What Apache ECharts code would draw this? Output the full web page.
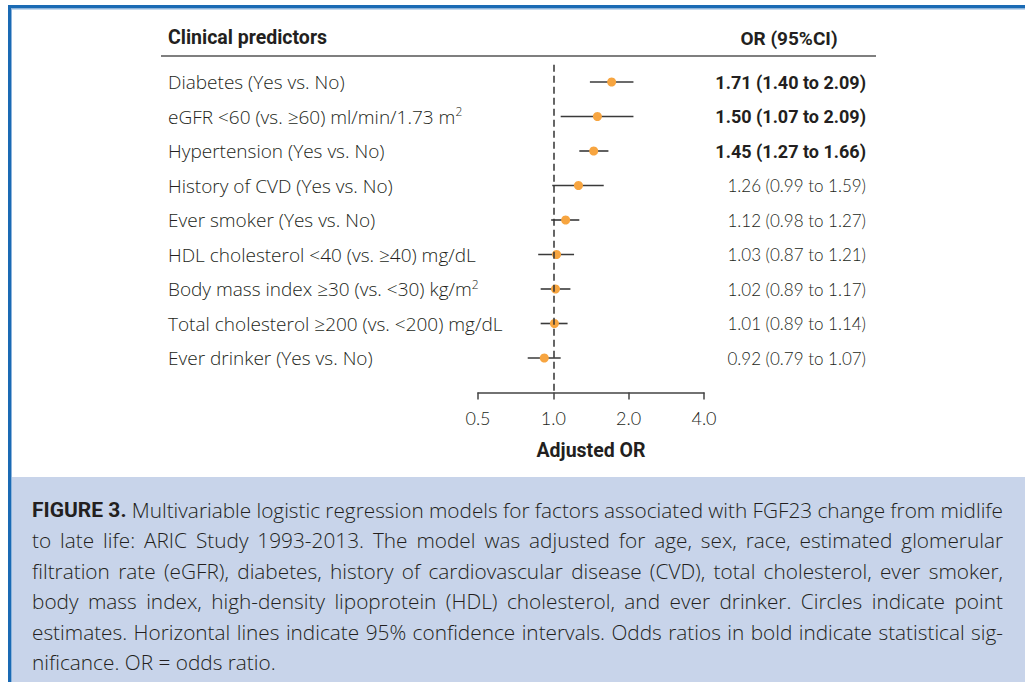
<!DOCTYPE html>
<html>
<head>
<meta charset="utf-8">
<script src="https://cdn.jsdelivr.net/npm/echarts@6/dist/echarts.min.js"></script>
<style>
html,body{margin:0;padding:0;background:#fff;}
#chart{width:1025px;height:682px;}
</style>
</head>
<body>
<div id="chart"></div>
<script>
// ---- data ----
const categories = [
  'Diabetes (Yes vs. No)',
  'eGFR <60 (vs. ≥60) ml/min/1.73 m{sup|2}',
  'Hypertension (Yes vs. No)',
  'History of CVD (Yes vs. No)',
  'Ever smoker (Yes vs. No)',
  'HDL cholesterol <40 (vs. ≥40) mg/dL',
  'Body mass index ≥30 (vs. <30) kg/m{sup|2}',
  'Total cholesterol ≥200 (vs. <200) mg/dL',
  'Ever drinker (Yes vs. No)'
];
const orValues = [1.71, 1.50, 1.45, 1.26, 1.12, 1.03, 1.02, 1.01, 0.92];
const ciLow    = [1.40, 1.07, 1.27, 0.99, 0.98, 0.87, 0.89, 0.89, 0.79];
const ciHigh   = [2.09, 2.09, 1.66, 1.59, 1.27, 1.21, 1.17, 1.14, 1.07];
const significant = [true, true, true, false, false, false, false, false, false];
const tickValues = [0.5, 1, 2, 4];
const tickLabels = ['0.5', '1.0', '2.0', '4.0'];
const headerLeft = 'Clinical predictors';
const headerRight = 'OR (95%CI)';
const axisTitle = 'Adjusted OR';
const captionLines = [
  'FIGURE 3. Multivariable logistic regression models for factors associated with FGF23 change from midlife',
  'to late life: ARIC Study 1993-2013. The model was adjusted for age, sex, race, estimated glomerular',
  'filtration rate (eGFR), diabetes, history of cardiovascular disease (CVD), total cholesterol, ever smoker,',
  'body mass index, high-density lipoprotein (HDL) cholesterol, and ever drinker. Circles indicate point',
  'estimates. Horizontal lines indicate 95% confidence intervals. Odds ratios in bold indicate statistical sig-',
  'nificance. OR = odds ratio.'
];

// ---- styles ----
const LIGHT_FONT = 'Open Sans';
const NUM_FONT = 'Lato';
const BOLD_FONT = 'Roboto';
const TEXT_COLOR = '#231f20';

function fmt(v){ return v.toFixed(2); }
const valueTexts = orValues.map((v,i)=> fmt(v) + ' (' + fmt(ciLow[i]) + ' to ' + fmt(ciHigh[i]) + ')');

// ---- caption justified layout ----
const measureCtx = document.createElement('canvas').getContext('2d');
const CAP_SIZE = 20.8;
function wordFont(bold){ return (bold ? 'bold 21px ' + BOLD_FONT : '300 ' + CAP_SIZE + 'px "' + LIGHT_FONT + '"'); }
const captionElems = [];
const capX0 = 32, capX1 = 1003, capY0 = 510, capLH = 30.4;
captionLines.forEach((line, li) => {
  const words = line.split(' ');
  const bolds = words.map((w, wi) => li === 0 && wi < 2);
  const widths = words.map((w, wi) => { measureCtx.font = wordFont(bolds[wi]); return measureCtx.measureText(w).width; });
  const total = widths.reduce((a,b)=>a+b,0);
  const last = li === captionLines.length - 1;
  measureCtx.font = wordFont(false);
  const spaceW = measureCtx.measureText(' ').width;
  const gap = last ? spaceW : (capX1 - capX0 - total) / (words.length - 1);
  let x = capX0;
  words.forEach((w, wi) => {
    captionElems.push({
      type: 'text', x: x, y: capY0 + li * capLH, silent: true,
      style: {
        text: w, fill: TEXT_COLOR, font: wordFont(bolds[wi]),
        verticalAlign: 'middle', align: 'left'
      }
    });
    x += widths[wi] + gap;
  });
});

const chart = echarts.init(document.getElementById('chart'), null, {renderer: 'svg'});

const ROW_LABEL_X = 168;
const VALUE_RIGHT_X = 866;

const option = {
  animation: false,
  backgroundColor: '#ffffff',
  grid: { left: 478, right: 321, top: 64.75, bottom: 289.5, containLabel: false },
  xAxis: {
    type: 'log', logBase: 2, min: 0.5, max: 4,
    name: axisTitle, nameLocation: 'middle', nameGap: 48,
    nameTextStyle: { fontFamily: BOLD_FONT, fontWeight: 'bold', fontSize: 19.5, color: TEXT_COLOR },
    axisLine: { show: true, onZero: false, lineStyle: { color: '#444', width: 1.5 } },
    axisTick: { show: true, length: 7, lineStyle: { color: '#444', width: 1.5 } },
    splitLine: { show: false },
    axisLabel: {
      margin: 16, fontFamily: NUM_FONT, fontWeight: 300, fontSize: 18, color: TEXT_COLOR,
      formatter: function (v) {
        const idx = tickValues.findIndex(t => Math.abs(t - v) < 1e-6);
        return idx >= 0 ? tickLabels[idx] : '';
      }
    }
  },
  yAxis: { type: 'value', inverse: true, min: -0.5, max: 9, show: false },
  graphic: [
    { type: 'rect', shape: { x: 11, y: 477, width: 1014, height: 205 }, style: { fill: '#C8D4EA' }, silent: true },
    { type: 'rect', shape: { x: 8, y: 5, width: 1017, height: 3.5 }, style: { fill: '#1A6AB4' }, silent: true },
    { type: 'rect', shape: { x: 8, y: 8.5, width: 1017, height: 1 }, style: { fill: '#8DB4DC' }, silent: true },
    { type: 'rect', shape: { x: 8, y: 5, width: 3, height: 677 }, style: { fill: '#1A6AB4' }, silent: true },
    { type: 'rect', shape: { x: 11, y: 8.5, width: 1, height: 673.5 }, style: { fill: '#8DB4DC' }, silent: true },
    { type: 'text', x: ROW_LABEL_X, y: 37, silent: true,
      style: { text: headerLeft, font: 'bold 19.5px ' + BOLD_FONT, fill: TEXT_COLOR, verticalAlign: 'middle', align: 'left' } },
    { type: 'text', x: 789, y: 38, silent: true,
      style: { text: headerRight, font: 'bold 19px ' + BOLD_FONT, fill: TEXT_COLOR, verticalAlign: 'middle', align: 'center' } },
    { type: 'line', shape: { x1: 161, y1: 56, x2: 876, y2: 56 }, style: { stroke: '#555', lineWidth: 1.5 }, silent: true }
  ].concat(captionElems),
  series: [
    {
      type: 'custom',
      clip: false,
      data: categories.map((c, i) => [i, ciLow[i], ciHigh[i]]),
      renderItem: function (params, api) {
        const i = api.value(0);
        const p0 = api.coord([api.value(1), i]);
        const p1 = api.coord([api.value(2), i]);
        const bold = significant[i];
        return {
          type: 'group',
          children: [
            { type: 'line', shape: { x1: p0[0], y1: p0[1], x2: p1[0], y2: p1[1] },
              style: { stroke: '#3a3a3a', lineWidth: 1.6 } },
            { type: 'text', x: ROW_LABEL_X, y: p0[1],
              style: {
                text: categories[i], fill: TEXT_COLOR,
                fontFamily: LIGHT_FONT, fontWeight: 300, fontSize: 19,
                verticalAlign: 'middle', align: 'left',
                rich: { sup: { fontSize: 12, fontFamily: LIGHT_FONT, fontWeight: 300, fill: TEXT_COLOR, verticalAlign: 'top', padding: [0,0,10,0] } }
              } },
            { type: 'text', x: VALUE_RIGHT_X, y: p0[1],
              style: {
                text: valueTexts[i], fill: TEXT_COLOR,
                fontFamily: bold ? BOLD_FONT : NUM_FONT, fontWeight: bold ? 'bold' : 300,
                fontSize: bold ? 18 : 17, verticalAlign: 'middle', align: 'right'
              } }
          ]
        };
      },
      z: 2
    },
    {
      type: 'scatter',
      data: orValues.map((v, i) => [v, i]),
      symbol: 'circle', symbolSize: 9,
      itemStyle: { color: '#F7A540', opacity: 1 },
      z: 3,
      markLine: {
        silent: true, symbol: 'none',
        label: { show: false },
        lineStyle: { color: '#333', width: 1.5, type: [7, 4] },
        data: [{ xAxis: 1 }]
      }
    }
  ]
};
chart.setOption(option);
</script>
</body>
</html>
